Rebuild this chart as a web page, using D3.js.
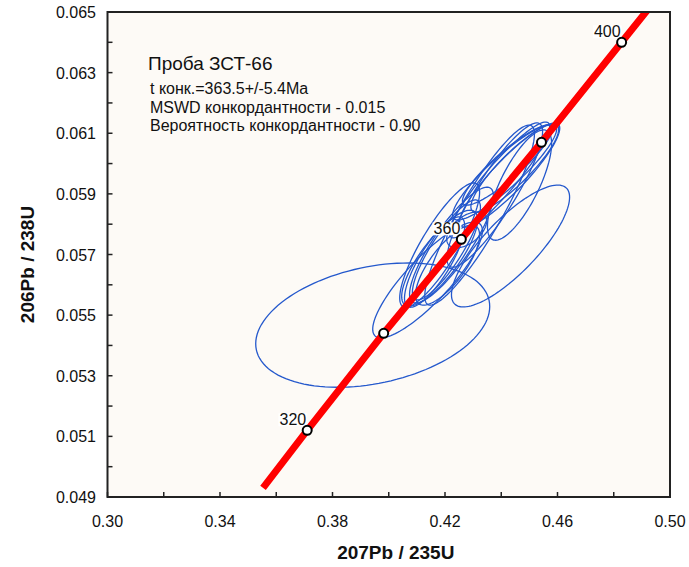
<!DOCTYPE html>
<html>
<head>
<meta charset="utf-8">
<title>Проба ЗСТ-66</title>
<script src="https://d3js.org/d3.v7.min.js"></script>
<style>
  body { margin: 0; background: #fff; }
  svg { font-family: Arial, "Liberation Sans", sans-serif; }
  .tick-label { font-size: 16px; fill: #111; }
  .axis-title { font-size: 19px; font-weight: bold; fill: #111; }
  .ellipse { fill: none; stroke: #2458cc; stroke-width: 1.3px; }
  .concordia { fill: none; stroke: #ff0000; stroke-width: 7px; }
  .age-dot { fill: #fff; stroke: #000; stroke-width: 2px; }
</style>
</head>
<body>
<svg id="chart" width="689" height="567"></svg>
<script>
// ---- data ----
// x ticks (207Pb/235U) and y ticks (206Pb/238U)
const xTicks = [0.30, 0.32, 0.34, 0.36, 0.38, 0.40, 0.42, 0.44, 0.46, 0.48, 0.50];
const xTickLabels = ["0.30", "0.34", "0.38", "0.42", "0.46", "0.50"];
const yTicks = [0.049, 0.050, 0.051, 0.052, 0.053, 0.054, 0.055, 0.056, 0.057,
                0.058, 0.059, 0.060, 0.061, 0.062, 0.063, 0.064, 0.065];
const yTickLabels = ["0.049", "0.051", "0.053", "0.055", "0.057", "0.059", "0.061", "0.063", "0.065"];

// age points on the concordia (Ma)
const ages = [320, 340, 360, 380, 400];
const ageX = [0.3710, 0.3982, 0.4258, 0.4543, 0.4828];
const ageY = [0.0512, 0.0544, 0.0575, 0.0607, 0.0640];
const ageLabels = ["320", "", "360", "", "400"];

// concordia curve vertices (ends run past the plot frame and are clipped)
const concX = [0.3553, 0.3710, 0.3982, 0.4258, 0.4543, 0.4828, 0.4966];
const concY = [0.0493, 0.0512, 0.0544, 0.0575, 0.0607, 0.0640, 0.0656];

// error ellipses: centre, half-extent in x and y, correlation
const ellX   = [0.3943, 0.4433, 0.4138, 0.4181, 0.4205, 0.4223, 0.4209, 0.4277, 0.4412,
                0.4430, 0.4394, 0.4448, 0.4377, 0.4323, 0.4465, 0.4181, 0.4163, 0.4422];
const ellY   = [0.05467, 0.05728, 0.05616, 0.05688, 0.05715, 0.05731, 0.05665, 0.05781, 0.05972,
                0.05962, 0.05946, 0.05985, 0.05896, 0.05830, 0.05929, 0.05731, 0.05675, 0.05995];
const ellAx  = [0.0416, 0.0210, 0.0195, 0.0135, 0.0121, 0.0149, 0.0114, 0.0071, 0.0185,
                0.0178, 0.0178, 0.0156, 0.0170, 0.0195, 0.0114, 0.0142, 0.0107, 0.0160];
const ellAy  = [0.00205, 0.00201, 0.00191, 0.00158, 0.00165, 0.00191, 0.00132, 0.00059, 0.00158,
                0.00172, 0.00191, 0.00145, 0.00238, 0.00297, 0.00182, 0.00205, 0.00149, 0.00132];
const ellRho = [0.30, 0.80, 0.85, 0.80, 0.85, 0.85, 0.75, 0.50, 0.90,
                0.90, 0.92, 0.88, 0.88, 0.90, 0.75, 0.85, 0.80, 0.90];

const infoTitle = "Проба ЗСТ-66";
const infoLines = ["t конк.=363.5+/-5.4Ma",
                   "MSWD конкордантности - 0.015",
                   "Вероятность конкордантности - 0.90"];

// ---- layout ----
const svg = d3.select("#chart");
const plot = { left: 107.5, right: 670, top: 12, bottom: 497 };

const x = d3.scaleLinear().domain([0.30, 0.50]).range([plot.left, plot.right]);
const y = d3.scaleLinear().domain([0.049, 0.065]).range([plot.bottom, plot.top]);

svg.append("defs").append("clipPath").attr("id", "clip")
  .append("rect")
  .attr("x", plot.left).attr("y", plot.top)
  .attr("width", plot.right - plot.left).attr("height", plot.bottom - plot.top);

// plot background
svg.append("rect")
  .attr("x", plot.left).attr("y", plot.top)
  .attr("width", plot.right - plot.left).attr("height", plot.bottom - plot.top)
  .attr("fill", "#fdfaf6");

const layer = svg.append("g").attr("clip-path", "url(#clip)");

// ellipses
const ellipses = ellX.map((cx, i) => ({ cx: cx, cy: ellY[i], ax: ellAx[i], ay: ellAy[i], rho: ellRho[i] }));
const line = d3.line().x(p => x(p[0])).y(p => y(p[1])).curve(d3.curveLinearClosed);
const ellipsePoints = function (e) {
  const pts = [];
  const s = Math.sqrt(1 - e.rho * e.rho);
  for (let k = 0; k < 120; k++) {
    const t = k / 120 * 2 * Math.PI;
    pts.push([e.cx + e.ax * Math.cos(t), e.cy + e.ay * (e.rho * Math.cos(t) + s * Math.sin(t))]);
  }
  return pts;
};
layer.selectAll("path.ellipse").data(ellipses)
  .join("path")
  .attr("class", "ellipse")
  .attr("d", d => line(ellipsePoints(d)));

// concordia
const concPts = concX.map((v, i) => [v, concY[i]]);
layer.append("path")
  .datum(concPts)
  .attr("class", "concordia")
  .attr("d", d3.line().x(p => x(p[0])).y(p => y(p[1])));

// age labels with white boxes
const agePts = ages.map((a, i) => ({ age: a, x: ageX[i], y: ageY[i], label: ageLabels[i] }));
const labels = svg.append("g");
agePts.filter(d => d.label !== "").forEach(d => {
  const t = labels.append("text")
    .attr("x", x(d.x) - 1)
    .attr("y", y(d.y) - 5)
    .attr("text-anchor", "end")
    .attr("font-size", 16)
    .attr("fill", "#111")
    .text(d.label);
  const bb = t.node().getBBox();
  labels.insert("rect", "text")
    .attr("x", bb.x - 1).attr("y", bb.y + 2)
    .attr("width", bb.width + 2).attr("height", bb.height - 4)
    .attr("fill", "#fff");
});

// age dots
svg.selectAll("circle.age-dot").data(agePts)
  .join("circle")
  .attr("class", "age-dot")
  .attr("cx", d => x(d.x))
  .attr("cy", d => y(d.y))
  .attr("r", 4.5);

// frame
svg.append("rect")
  .attr("x", plot.left).attr("y", plot.top)
  .attr("width", plot.right - plot.left).attr("height", plot.bottom - plot.top)
  .attr("fill", "none").attr("stroke", "#222").attr("stroke-width", 2);

// ticks (inward)
svg.selectAll("line.xtick").data(xTicks)
  .join("line")
  .attr("x1", d => x(d)).attr("x2", d => x(d))
  .attr("y1", plot.bottom).attr("y2", plot.bottom - 5)
  .attr("stroke", "#222").attr("stroke-width", 1.5);
svg.selectAll("line.ytick").data(yTicks)
  .join("line")
  .attr("x1", plot.left).attr("x2", plot.left + 5)
  .attr("y1", d => y(d)).attr("y2", d => y(d))
  .attr("stroke", "#222").attr("stroke-width", 1.5);

svg.selectAll("text.xlab").data(xTickLabels)
  .join("text")
  .attr("class", "tick-label")
  .attr("x", d => x(+d))
  .attr("y", 527)
  .attr("text-anchor", "middle")
  .text(d => d);
svg.selectAll("text.ylab").data(yTickLabels)
  .join("text")
  .attr("class", "tick-label")
  .attr("x", 96)
  .attr("y", d => y(+d) + 6)
  .attr("text-anchor", "end")
  .text(d => d);

// axis titles
svg.append("text").attr("class", "axis-title")
  .attr("x", (plot.left + plot.right) / 2 + 7).attr("y", 559)
  .attr("text-anchor", "middle")
  .text("207Pb / 235U");
svg.append("text").attr("class", "axis-title")
  .attr("transform", "translate(34," + ((plot.top + plot.bottom) / 2 + 10) + ") rotate(-90)")
  .attr("text-anchor", "middle")
  .text("206Pb / 238U");

// info text
svg.append("text")
  .attr("x", 148).attr("y", 70)
  .attr("font-size", 19).attr("fill", "#111")
  .text(infoTitle);
svg.selectAll("text.info").data(infoLines)
  .join("text")
  .attr("class", "info")
  .attr("x", 150)
  .attr("y", (d, i) => 94 + i * 18.5)
  .attr("font-size", 16).attr("fill", "#111")
  .text(d => d);
</script>
</body>
</html>
